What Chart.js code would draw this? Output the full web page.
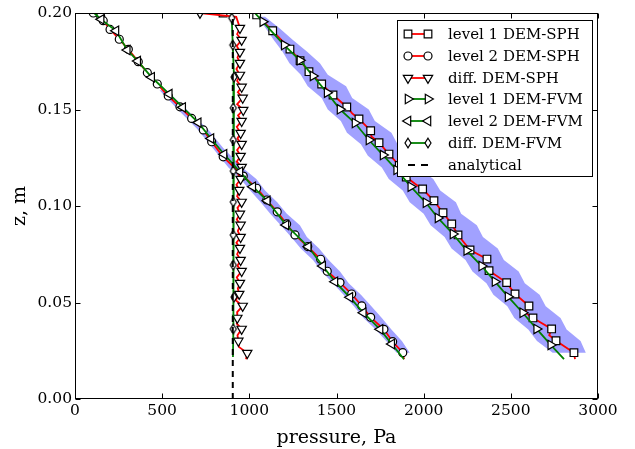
<!DOCTYPE html>
<html>
<head>
<meta charset="utf-8">
<script src="https://cdn.jsdelivr.net/npm/chart.js@4.4.1/dist/chart.umd.min.js"></script>
<style>
  html, body { margin: 0; padding: 0; background: #fff; }
  canvas { display: block; }
</style>
</head>
<body>
<canvas id="chart" width="635" height="449"></canvas>
<script>
// tick labels
const xTickValues = [0, 500, 1000, 1500, 2000, 2500, 3000];
const yTickValues = [0.00, 0.05, 0.10, 0.15, 0.20];

const seriesLabels = ['level 1 DEM-SPH', 'level 2 DEM-SPH', 'diff. DEM-SPH',
  'level 1 DEM-FVM', 'level 2 DEM-FVM', 'diff. DEM-FVM', 'analytical'];

// level 1 DEM-SPH (markers, then the jagged line)
const sph1P = [849, 1042, 1134, 1233, 1291, 1342, 1415, 1480, 1559, 1629, 1696, 1744, 1801, 1860, 1900, 1994, 2059, 2111, 2161, 2197, 2266, 2363, 2375, 2476, 2524, 2604, 2627, 2734, 2759, 2862];
const sph1Z = [0.2000, 0.1990, 0.1908, 0.1813, 0.1753, 0.1696, 0.1632, 0.1575, 0.1513, 0.1451, 0.1390, 0.1328, 0.1269, 0.1210, 0.1150, 0.1088, 0.1027, 0.0965, 0.0907, 0.0850, 0.0772, 0.0725, 0.0665, 0.0603, 0.0544, 0.0482, 0.0420, 0.0363, 0.0302, 0.0240];
const sph1LineP = [849, 1020, 1042, 1134, 1233, 1291, 1342, 1415, 1480, 1559, 1590, 1629, 1696, 1700, 1744, 1801, 1860, 1900, 1950, 1994, 2059, 2111, 2161, 2197, 2266, 2363, 2335, 2375, 2476, 2524, 2604, 2580, 2627, 2734, 2720, 2759, 2862, 2868];
const sph1LineZ = [0.2000, 0.2000, 0.1990, 0.1908, 0.1813, 0.1753, 0.1696, 0.1632, 0.1575, 0.1513, 0.1480, 0.1451, 0.1390, 0.1360, 0.1328, 0.1269, 0.1210, 0.1150, 0.1115, 0.1088, 0.1027, 0.0965, 0.0907, 0.0850, 0.0772, 0.0725, 0.0695, 0.0665, 0.0603, 0.0544, 0.0482, 0.0450, 0.0420, 0.0363, 0.0330, 0.0302, 0.0240, 0.0207];

// level 2 DEM-SPH
const sph2P = [105, 147, 162, 201, 254, 306, 363, 415, 472, 535, 602, 669, 736, 784, 850, 965, 1042, 1100, 1160, 1214, 1262, 1335, 1409, 1447, 1520, 1587, 1645, 1696, 1772, 1822, 1880];
const sph2Z = [0.2000, 0.1984, 0.1960, 0.1915, 0.1864, 0.1812, 0.1748, 0.1691, 0.1632, 0.1570, 0.1514, 0.1454, 0.1394, 0.1333, 0.1255, 0.1155, 0.1092, 0.1031, 0.0970, 0.0907, 0.0850, 0.0790, 0.0724, 0.0662, 0.0603, 0.0544, 0.0482, 0.0423, 0.0361, 0.0297, 0.0240];
const sph2LineP = [...sph2P, 1887];
const sph2LineZ = [...sph2Z, 0.0206];

// diff. DEM-SPH
const dsphP = [717, 946, 956, 946, 946, 946, 956, 962, 965, 956, 950, 956, 950, 956, 950, 942, 956, 946, 950, 950, 946, 950, 956, 946, 942, 962, 931, 956, 937, 988];
const dsphZ = [0.2000, 0.1922, 0.1860, 0.1798, 0.1741, 0.1679, 0.1617, 0.1560, 0.1497, 0.1440, 0.1378, 0.1321, 0.1259, 0.1202, 0.1140, 0.1083, 0.1021, 0.0959, 0.0902, 0.0839, 0.0782, 0.0720, 0.0663, 0.0601, 0.0544, 0.0482, 0.0420, 0.0363, 0.0301, 0.0238];
const dsphLineP = [717, 925, 946, 930, 956, 928, 946, 932, 946, 926, 946, 930, 956, 934, 962, 930, 965, 935, 956, 928, 950, 932, 956, 930, 950, 928, 956, 934, 950, 926, 942, 930, 956, 932, 946, 928, 950, 934, 950, 926, 946, 930, 950, 932, 956, 928, 946, 934, 942, 922, 962, 930, 931, 928, 956, 932, 937, 940, 988, 981];
const dsphLineZ = [0.2000, 0.1980, 0.1922, 0.1890, 0.1860, 0.1830, 0.1798, 0.1770, 0.1741, 0.1710, 0.1679, 0.1648, 0.1617, 0.1590, 0.1560, 0.1528, 0.1497, 0.1470, 0.1440, 0.1410, 0.1378, 0.1350, 0.1321, 0.1290, 0.1259, 0.1230, 0.1202, 0.1170, 0.1140, 0.1110, 0.1083, 0.1050, 0.1021, 0.0990, 0.0959, 0.0930, 0.0902, 0.0870, 0.0839, 0.0810, 0.0782, 0.0750, 0.0720, 0.0690, 0.0663, 0.0630, 0.0601, 0.0572, 0.0544, 0.0512, 0.0482, 0.0450, 0.0420, 0.0390, 0.0363, 0.0330, 0.0301, 0.0270, 0.0238, 0.0206];

// level 1 DEM-FVM
const fvm1P = [1077, 1200, 1290, 1365, 1446, 1520, 1606, 1686, 1767, 1845, 1926, 2013, 2082, 2168, 2247, 2333, 2409, 2484, 2568, 2648, 2729];
const fvm1Z = [0.1955, 0.1834, 0.1755, 0.1674, 0.1587, 0.1501, 0.1430, 0.1342, 0.1264, 0.1187, 0.1100, 0.1017, 0.0938, 0.0855, 0.0769, 0.0689, 0.0608, 0.0530, 0.0447, 0.0363, 0.0280];
const fvm1LineP = [1032, ...fvm1P, 2805];
const fvm1LineZ = [0.2000, ...fvm1Z, 0.0207];

// level 2 DEM-FVM
const fvm2P = [150, 235, 300, 360, 440, 541, 618, 707, 780, 855, 946, 1020, 1103, 1210, 1338, 1421, 1491, 1577, 1654, 1750, 1817];
const fvm2Z = [0.1967, 0.1908, 0.1808, 0.1751, 0.1667, 0.1580, 0.1511, 0.1432, 0.1350, 0.1268, 0.1178, 0.1100, 0.1027, 0.0902, 0.0789, 0.0689, 0.0608, 0.0527, 0.0447, 0.0361, 0.0285];
const fvm2LineP = [110, ...fvm2P, 1887];
const fvm2LineZ = [0.2000, ...fvm2Z, 0.0206];

// diff. DEM-FVM
const dfvmP = [899, 905, 912, 908, 908, 908, 908, 908, 908, 912, 908];
const dfvmZ = [0.1974, 0.1834, 0.1668, 0.1508, 0.1342, 0.1181, 0.1021, 0.0850, 0.0694, 0.0528, 0.0363];
const dfvmLineP = [898, ...dfvmP, 906];
const dfvmLineZ = [0.2000, ...dfvmZ, 0.0218];

// analytical
const analyticP = [905, 905];
const analyticZ = [0.0, 0.2];

// spread of the SPH runs (shaded)
const band1Z = [0.198, 0.192, 0.186, 0.180, 0.174, 0.168, 0.162, 0.156, 0.150, 0.144, 0.138, 0.132, 0.126, 0.120, 0.114, 0.108, 0.102, 0.096, 0.090, 0.084, 0.078, 0.072, 0.066, 0.060, 0.054, 0.048, 0.042, 0.036, 0.030, 0.024];
const band1Lo = [1045, 1095, 1140, 1190, 1230, 1295, 1335, 1415, 1450, 1525, 1560, 1640, 1680, 1760, 1800, 1880, 1920, 2000, 2040, 2120, 2160, 2240, 2280, 2360, 2400, 2480, 2520, 2600, 2650, 2740];
const band1Hi = [1090, 1175, 1250, 1330, 1405, 1450, 1555, 1590, 1685, 1720, 1815, 1850, 1935, 1970, 2055, 2095, 2185, 2215, 2305, 2340, 2425, 2460, 2545, 2580, 2665, 2700, 2785, 2820, 2900, 2930];
const band2Z = [0.160, 0.150, 0.140, 0.130, 0.120, 0.114, 0.108, 0.102, 0.096, 0.090, 0.084, 0.078, 0.072, 0.066, 0.060, 0.054, 0.048, 0.042, 0.036, 0.030, 0.024];
const band2Lo = [485, 590, 700, 790, 880, 950, 1005, 1065, 1120, 1180, 1240, 1295, 1365, 1415, 1480, 1540, 1600, 1655, 1725, 1785, 1845];
const band2Hi = [525, 640, 760, 850, 960, 1040, 1090, 1160, 1215, 1290, 1330, 1400, 1455, 1520, 1570, 1640, 1700, 1760, 1815, 1875, 1920];

const RED = '#ff0000';
const GREEN = '#008000';
const BAND = 'rgba(20, 20, 255, 0.4)';

function pts(ps, zs) {
  return ps.map((p, i) => ({ x: p, y: zs[i] }));
}
function bandShape(zs, lo, hi) {
  const right = hi.map((p, i) => ({ x: p, y: zs[i] }));
  const left = lo.map((p, i) => ({ x: p, y: zs[i] })).reverse();
  return right.concat(left);
}

// thin diamond (matplotlib 'd') is not a Chart.js style, so it gets a small canvas
function makeDiamond() {
  const c = document.createElement('canvas');
  c.width = 12; c.height = 14;
  const g = c.getContext('2d');
  g.translate(6, 7);
  g.beginPath();
  g.moveTo(0, -4.8); g.lineTo(3, 0); g.lineTo(0, 4.8); g.lineTo(-3, 0); g.closePath();
  g.fillStyle = '#fff';
  g.fill();
  g.lineWidth = 1.2;
  g.strokeStyle = '#000';
  g.stroke();
  return c;
}
const diamond = makeDiamond();

// marker looks: [pointStyle, radius, rotation]
const MK = {
  square: ['rect', 5.4, 0],
  circle: ['circle', 4, 0],
  down: ['triangle', 5.4, 180],
  right: ['triangle', 5.4, 90],
  left: ['triangle', 5.4, 270],
  diamond: [diamond, 4, 0]
};

// same shapes for the legend handles
function drawMarker(ctx, mk, x, y) {
  const [style, r, rot] = mk;
  if (typeof style !== 'string') {
    ctx.drawImage(style, Math.round(x - style.width / 2), Math.round(y - style.height / 2));
    return;
  }
  ctx.save();
  ctx.beginPath();
  if (style === 'circle') {
    ctx.arc(x, y, r, 0, Math.PI * 2);
  } else if (style === 'rect') {
    const s = r * Math.SQRT1_2;
    ctx.rect(x - s, y - s, 2 * s, 2 * s);
  } else {
    let a = rot * Math.PI / 180;
    ctx.moveTo(x + Math.sin(a) * r, y - Math.cos(a) * r);
    a += 2 * Math.PI / 3;
    ctx.lineTo(x + Math.sin(a) * r, y - Math.cos(a) * r);
    a += 2 * Math.PI / 3;
    ctx.lineTo(x + Math.sin(a) * r, y - Math.cos(a) * r);
    ctx.closePath();
  }
  ctx.fillStyle = '#fff';
  ctx.fill();
  ctx.lineWidth = 1.2;
  ctx.strokeStyle = '#000';
  ctx.stroke();
  ctx.restore();
}

const legendItems = [
  { color: RED, marker: MK.square },
  { color: RED, marker: MK.circle },
  { color: RED, marker: MK.down },
  { color: GREEN, marker: MK.right },
  { color: GREEN, marker: MK.left },
  { color: GREEN, marker: MK.diamond },
  { color: '#000', dash: true }
];

function lineSet(data, color, order, extra) {
  return Object.assign({
    data, borderColor: color, borderWidth: 1.8, pointRadius: 0,
    fill: false, tension: 0, clip: 0, order
  }, extra || {});
}
function markerSet(data, mk, order) {
  return {
    data, showLine: false,
    pointStyle: mk[0], pointRadius: mk[1], pointRotation: mk[2],
    pointBackgroundColor: '#fff', pointBorderColor: '#000', pointBorderWidth: 1.2,
    backgroundColor: '#fff', borderColor: '#000',
    clip: 0, order
  };
}

const datasets = [
  lineSet(bandShape(band1Z, band1Lo, band1Hi), 'transparent', 40, { fill: 'shape', backgroundColor: BAND, borderWidth: 0 }),
  lineSet(bandShape(band2Z, band2Lo, band2Hi), 'transparent', 39, { fill: 'shape', backgroundColor: BAND, borderWidth: 0 }),
  lineSet(pts(sph1LineP, sph1LineZ), RED, 30),
  markerSet(pts(sph1P, sph1Z), MK.square, 29),
  lineSet(pts(sph2LineP, sph2LineZ), RED, 28),
  markerSet(pts(sph2P, sph2Z), MK.circle, 27),
  lineSet(pts(dsphLineP, dsphLineZ), RED, 26),
  markerSet(pts(dsphP, dsphZ), MK.down, 25),
  lineSet(pts(fvm1LineP, fvm1LineZ), GREEN, 24),
  markerSet(pts(fvm1P, fvm1Z), MK.right, 23),
  lineSet(pts(fvm2LineP, fvm2LineZ), GREEN, 22),
  markerSet(pts(fvm2P, fvm2Z), MK.left, 21),
  lineSet(pts(dfvmLineP, dfvmLineZ), GREEN, 20),
  markerSet(pts(dfvmP, dfvmZ), MK.diamond, 19),
  lineSet(pts(analyticP, analyticZ), '#000', 10, { borderWidth: 2, borderDash: [6, 5] })
];

// frame with inward ticks on all four sides, like the classic matplotlib style
const framePlugin = {
  id: 'frame',
  afterDatasetsDraw(chart) {
    const { ctx, chartArea: a, scales } = chart;
    const L = Math.round(a.left) + 0.5, R = Math.round(a.right) - 0.5;
    const T = Math.round(a.top) + 0.5, B = Math.round(a.bottom) - 0.5;
    const len = 5;
    ctx.save();
    ctx.strokeStyle = '#000';
    ctx.lineWidth = 1;
    ctx.strokeRect(L, T, R - L, B - T);
    ctx.beginPath();
    xTickValues.forEach(v => {
      const x = Math.round(scales.x.getPixelForValue(v)) + 0.5;
      ctx.moveTo(x, B); ctx.lineTo(x, B - len);
      ctx.moveTo(x, T); ctx.lineTo(x, T + len);
    });
    yTickValues.forEach(v => {
      const y = Math.round(scales.y.getPixelForValue(v)) + 0.5;
      ctx.moveTo(L, y); ctx.lineTo(L + len, y);
      ctx.moveTo(R, y); ctx.lineTo(R - len, y);
    });
    ctx.stroke();
    ctx.restore();
  }
};

// legend box in the upper right corner of the axes
const legendPlugin = {
  id: 'boxLegend',
  afterDraw(chart) {
    const { ctx } = chart;
    const box = { x: 397.5, y: 20.5, w: 195, h: 156 };
    ctx.save();
    ctx.fillStyle = '#fff';
    ctx.fillRect(box.x, box.y, box.w, box.h);
    ctx.strokeStyle = '#000';
    ctx.lineWidth = 1;
    ctx.strokeRect(box.x, box.y, box.w, box.h);
    ctx.font = '15px "DejaVu Serif"';
    ctx.textBaseline = 'middle';
    legendItems.forEach((item, i) => {
      const y = Math.round(34 + i * 21.8);
      ctx.beginPath();
      ctx.strokeStyle = item.color;
      ctx.lineWidth = item.dash ? 2 : 1.8;
      ctx.setLineDash(item.dash ? [7, 6] : []);
      ctx.moveTo(408, y); ctx.lineTo(428, y);
      ctx.stroke();
      ctx.setLineDash([]);
      if (item.marker) {
        drawMarker(ctx, item.marker, 408, y);
        drawMarker(ctx, item.marker, 428, y);
      }
      ctx.fillStyle = '#000';
      ctx.fillText(seriesLabels[i], 448, y + 1);
    });
    ctx.restore();
  }
};

Chart.defaults.font.family = '"DejaVu Serif"';
Chart.defaults.color = '#000';

new Chart(document.getElementById('chart'), {
  type: 'line',
  data: { datasets },
  options: {
    responsive: false,
    animation: false,
    events: [],
    layout: { padding: { left: 0, right: 37, top: 13, bottom: 0 } },
    plugins: { legend: { display: false }, tooltip: { enabled: false } },
    scales: {
      x: {
        type: 'linear', min: 0, max: 3000,
        afterBuildTicks: s => { s.ticks = xTickValues.map(v => ({ value: v })); },
        afterFit: s => { s.height = 50; },
        grid: { display: false, drawTicks: false },
        border: { display: false },
        ticks: { font: { size: 15.5 }, padding: 3, maxRotation: 0, callback: v => String(v) },
        title: { display: true, text: 'pressure, Pa', font: { size: 19 }, padding: { top: 0, bottom: 0 } }
      },
      y: {
        type: 'linear', min: 0, max: 0.2,
        afterBuildTicks: s => { s.ticks = yTickValues.map(v => ({ value: v })); },
        afterFit: s => { s.width = 75; },
        grid: { display: false, drawTicks: false },
        border: { display: false },
        ticks: { font: { size: 15.5 }, padding: 3, callback: v => v.toFixed(2) },
        title: { display: true, text: 'z, m', font: { size: 19 }, padding: { top: 9, bottom: 0 } }
      }
    }
  },
  plugins: [framePlugin, legendPlugin]
});
</script>
</body>
</html>
